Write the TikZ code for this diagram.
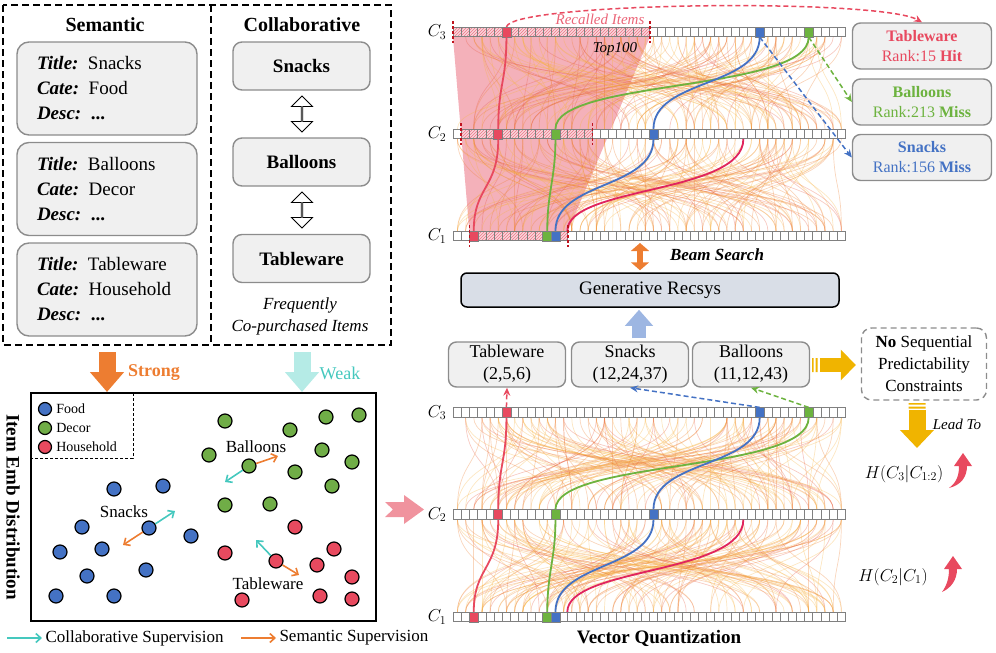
\documentclass[tikz,border=0pt]{standalone}
\usepackage{fontspec}
\setmainfont{Liberation Serif}
\usetikzlibrary{arrows.meta,calc,positioning,patterns,backgrounds,shapes.arrows}
\definecolor{tabred}{HTML}{E8495F}
\definecolor{balgreen}{HTML}{6DB33F}
\definecolor{snackblue}{HTML}{4472C4}
\definecolor{semorange}{HTML}{ED7D31}
\definecolor{colcyan}{HTML}{45C8BE}
\definecolor{weakcyan}{HTML}{B5EBE6}
\definecolor{boxgray}{HTML}{F0F0F0}
\definecolor{edgegray}{HTML}{8C8C8C}
\definecolor{recsysfill}{HTML}{D9DEE7}
\definecolor{upblue}{HTML}{9DB6E2}
\definecolor{leadyellow}{HTML}{F0B400}
\definecolor{pinkarrow}{HTML}{F0939E}
\definecolor{shadepink}{HTML}{F2A3AE}
\definecolor{flowa}{HTML}{F7B446}
\definecolor{flowb}{HTML}{EE8236}
\definecolor{flowc}{HTML}{E8604A}
\definecolor{crimson}{HTML}{E0245E}
\definecolor{markred}{HTML}{C0141E}
\definecolor{dotred}{HTML}{E84A5F}
\definecolor{dotgreen}{HTML}{70AD47}

\begin{document}
\begin{tikzpicture}[
  x=1pt, y=-1pt,
  font=\fontsize{18}{22}\selectfont,
  outerdash/.style={draw=black, line width=1.5pt, dash pattern=on 7pt off 4pt},
  head/.style={font=\fontsize{20}{24}\selectfont\bfseries},
  sembox/.style={draw=edgegray, fill=boxgray, line width=1.4pt, rounded corners=12pt, minimum width=180pt, minimum height=93pt, text width=140pt, align=left, inner sep=0pt, font=\fontsize{19}{25}\selectfont},
  colbox/.style={draw=edgegray, fill=boxgray, line width=1.4pt, rounded corners=9pt, minimum width=137pt, minimum height=48pt, font=\fontsize{19}{23}\selectfont\bfseries},
  dbl/.style={double arrow, draw=black, fill=white, line width=0.9pt, rotate=90, minimum height=36pt, minimum width=21pt, double arrow head extend=5.5pt, inner sep=0pt},
  bigarrow/.style={line width=17pt, -{Triangle[length=20pt,width=33pt]}},
  dotb/.style={circle, draw=black, line width=1.2pt, fill=snackblue, minimum size=14pt, inner sep=0pt},
  dotg/.style={dotb, fill=dotgreen},
  dotr/.style={dotb, fill=dotred},
  legtext/.style={font=\fontsize{14}{16}\selectfont, inner sep=1pt},
  itemlabel/.style={font=\fontsize{17}{20}\selectfont},
  colarr/.style={-{Straight Barb[length=5pt,width=9pt]}, draw=colcyan, line width=1.6pt},
  semarr/.style={-{Straight Barb[length=5pt,width=9pt]}, draw=semorange, line width=1.6pt},
  cell/.style={draw=gray, fill=white, line width=0.7pt, minimum width=8.17pt, minimum height=9.5pt, inner sep=0pt},
  hcell/.style={cell, preaction={fill=shadepink!45}, pattern=north east lines, pattern color=tabred!75},
  flow/.style={line width=0.7pt, opacity=0.33},
  marker/.style={draw=markred, line width=1.5pt, dash pattern=on 3pt off 2pt},
  pathred/.style={draw=tabred, line width=1.8pt},
  pathgreen/.style={draw=balgreen, line width=1.8pt},
  pathblue/.style={draw=snackblue, line width=1.8pt},
  pathcrim/.style={draw=crimson, line width=1.8pt},
  clab/.style={font=\fontsize{18}{20}\selectfont},
  rankbox/.style={draw=edgegray, fill=boxgray, line width=1.4pt, rounded corners=8pt, minimum width=139pt, minimum height=46pt, align=center, font=\fontsize{16}{20}\selectfont},
  codebox/.style={draw=edgegray, fill=boxgray, line width=1.4pt, rounded corners=8pt, minimum width=117pt, minimum height=45pt, align=center, font=\fontsize{18}{22}\selectfont},
  rdash/.style={->, >={Stealth[length=8pt,width=7pt]}, draw=tabred, line width=1.5pt, dash pattern=on 5pt off 3pt},
  gdash/.style={rdash, draw=balgreen},
  bdash/.style={rdash, draw=snackblue},
  recsys/.style={draw=black, fill=recsysfill, line width=1.5pt, rounded corners=6pt, minimum width=378pt, minimum height=34pt, font=\fontsize{19}{22}\selectfont},
  nobox/.style={draw=edgegray, line width=1.4pt, dash pattern=on 6pt off 4pt, rounded corners=10pt, minimum width=125pt, minimum height=72pt, align=center, font=\fontsize{17}{22}\selectfont},
  hlab/.style={font=\fontsize{18}{20}\selectfont}
]
\useasboundingbox (0,0) rectangle (996,653);

% item features
\draw[outerdash] (3,5) rectangle (391,345);
\draw[outerdash] (211,5) -- (211,345);
\node[head] (semhead) at (105,25) {Semantic};
\node[head] (colhead) at (302,25) {Collaborative};
\node[sembox] (sem1) at (107,88.5) {\textbf{\textit{Title:}} Snacks\\\textbf{\textit{Cate:}} Food\\\textbf{\textit{Desc:} ...}};
\node[sembox] (sem2) at (107,189) {\textbf{\textit{Title:}} Balloons\\\textbf{\textit{Cate:}} Decor\\\textbf{\textit{Desc:} ...}};
\node[sembox] (sem3) at (107,289.5) {\textbf{\textit{Title:}} Tableware\\\textbf{\textit{Cate:}} Household\\\textbf{\textit{Desc:} ...}};
\node[colbox] (col1) at (301.5,66) {Snacks};
\node[colbox] (col2) at (301.5,162) {Balloons};
\node[colbox] (col3) at (301.5,258.5) {Tableware};
\node[dbl] (co12) at (302,114) {};
\node[dbl] (co23) at (302,210) {};
\node[font=\fontsize{17}{22}\selectfont\itshape, align=center] (copur) at (300,316) {Frequently\\Co-purchased Items};

% supervision strength
\coordinate (strongtop) at (107,352);
\coordinate (weaktop) at (302,352);
\node[draw=black, line width=2pt, minimum width=345pt, minimum height=228pt, inner sep=0pt] (emb) at (203.5,507) {};
\draw[bigarrow, draw=semorange] (strongtop) -- (strongtop |- emb.north);
\draw[bigarrow, draw=weakcyan] (weaktop) -- (weaktop |- emb.north);
\node[font=\fontsize{18}{22}\selectfont\bfseries, text=semorange] (strong) at (154,373) {Strong};
\node[font=\fontsize{18}{22}\selectfont, text=colcyan] (weak) at (340,373) {Weak};
\node[font=\fontsize{19}{22}\selectfont\bfseries, rotate=-90] (embtitle) at (13,507) {Item Emb Distribution};

% legend
\draw[black, line width=0.9pt, dash pattern=on 3pt off 2pt] (133,393) -- (133,458) -- (31,458);
\node[dotb, minimum size=13pt] (lgfood) at (45,409) {};
\node[dotg, minimum size=13pt] (lgdecor) at (45,428) {};
\node[dotr, minimum size=13pt] (lghouse) at (45,447) {};
\node[legtext, right=3pt of lgfood] (lgfoodt) {Food};
\node[legtext, right=3pt of lgdecor] (lgdecort) {Decor};
\node[legtext, right=3pt of lghouse] (lghouset) {Household};

% embeddings
\foreach \x/\y [count=\n] in {114/489, 163/486, 82/527, 191/536, 60/552, 102/549, 146/570, 87/576, 56/596, 114/596}
  \node[dotb] (fb\n) at (\x,\y) {};
\foreach \x/\y [count=\n] in {225/421, 290/430, 326/417, 359/415, 209/455, 322/450, 352/462, 295/472, 332/486, 225/505, 270/504}
  \node[dotg] (fg\n) at (\x,\y) {};
\foreach \x/\y [count=\n] in {295/527, 225/553, 334/549, 317/565, 352/577, 242/600, 320/596, 352/599}
  \node[dotr] (fr\n) at (\x,\y) {};
\node[dotb] (snackdot) at (149,528) {};
\node[dotg] (balldot) at (249,466) {};
\node[dotr] (tabdot) at (276,561) {};
\node[itemlabel] (snacklab) at (124,512) {Snacks};
\node[itemlabel] (balllab) at (256,447) {Balloons};
\node[itemlabel] (tablab) at (268,584) {Tableware};
\coordinate (snc) at (175,511);
\coordinate (sns) at (123,545);
\coordinate (bac) at (225,482);
\coordinate (bas) at (278,456);
\coordinate (twc) at (256,540);
\coordinate (tws) at (299,575);
\draw[colarr] (snackdot) -- (snc);
\draw[semarr] (snackdot) -- (sns);
\draw[colarr] (balldot) -- (bac);
\draw[semarr] (balldot) -- (bas);
\draw[colarr] (tabdot) -- (twc);
\draw[semarr] (tabdot) -- (tws);

\node[anchor=west, font=\fontsize{17}{20}\selectfont] (lgcol) at (42,638) {Collaborative Supervision};
\node[anchor=west, font=\fontsize{17}{20}\selectfont] (lgsem) at (276,638) {Semantic Supervision};
\draw[colarr] ($(lgcol.west)+(-35,0)$) -- (lgcol.west);
\draw[semarr] ($(lgsem.west)+(-35,0)$) -- (lgsem.west);

% pink arrow to quantizer
\fill[pinkarrow] (385,502) -- (404,502) -- (404,495) -- (424,509.5) -- (404,524) -- (404,517) -- (385,517) -- (393,509.5) -- cycle;

% codebooks
\foreach \r/\y/\hs/\he in {a3/32/0/23, a2/134/1/16, a1/236/2/13, b3/412.5/99/0, b2/514.5/99/0, b1/617/99/0}{
  \foreach \i in {0,...,47}{
    \ifnum\i<\hs\relax \def\cst{cell}\else\ifnum\i>\he\relax \def\cst{cell}\else\def\cst{hcell}\fi\fi
    \node[\cst] (\r-\i) at ({457.4+8.17*\i},\y) {};
  }
}
\foreach \r/\y/\t in {a3/32/3, a2/134/2, a1/236/1, b3/412.5/3, b2/514.5/2, b1/617/1}
  \node[clab] (lab\r) at (437,\y) {$C_{\t}$};

\begin{scope}[on background layer]
\fill[shadepink, opacity=0.85] (a3-0.south west) -- (a3-23.south east) -- (a1-13.north east) -- (a1-2.north west) -- cycle;
\pgfmathsetseed{17}
\foreach \u/\l in {a3/a2, a2/a1, b3/b2, b2/b1}{
  \foreach \k in {1,...,165}{
    \pgfmathrandominteger{\p}{0}{47}
    \pgfmathrandominteger{\q}{0}{47}
    \pgfmathrandominteger{\m}{0}{5}
    \ifcase\m\relax \def\fc{flowa}\or\def\fc{flowa}\or\def\fc{flowa}\or\def\fc{flowb}\or\def\fc{flowb}\else\def\fc{flowc}\fi
    \draw[flow, draw=\fc] (\u-\p.south) .. controls +(0,50) and +(0,-50) .. (\l-\q.north);
  }
}
\end{scope}

\foreach \r/\k/\c in {a3/6/tabred, a2/5/tabred, a1/2/tabred, a3/43/balgreen, a2/12/balgreen, a1/11/balgreen, a3/37/snackblue, a2/24/snackblue, a1/12/snackblue, b3/6/tabred, b2/5/tabred, b1/2/tabred, b3/43/balgreen, b2/12/balgreen, b1/11/balgreen, b3/37/snackblue, b2/24/snackblue, b1/12/snackblue}
  \filldraw[fill=\c, draw=gray, line width=0.7pt] (\r-\k.north west) rectangle (\r-\k.south east);

\foreach \s in {a,b}{
  \draw[pathred] (\s3-6.south) .. controls +(0,45) and +(0,-45) .. (\s2-5.north);
  \draw[pathred] (\s2-5.south) .. controls +(0,50) and +(0,-45) .. (\s1-2.north);
  \draw[pathgreen] (\s3-43.south) .. controls +(0,55) and +(0,-50) .. (\s2-12.north);
  \draw[pathgreen] (\s2-12.south) .. controls +(0,40) and +(0,-40) .. (\s1-11.north);
  \draw[pathblue] (\s3-37.south) .. controls +(0,50) and +(0,-50) .. (\s2-24.north);
  \draw[pathblue] (\s2-24.south) .. controls +(0,50) and +(0,-50) .. (\s1-12.north);
  \draw[pathcrim] (\s2-35.south) .. controls +(0,55) and +(0,-45) .. (\s1-14.north west);
}

\foreach \r/\k/\side in {a3/0/west, a3/23/east, a2/1/west, a2/16/east, a1/2/west, a1/13/east}
  \draw[marker] (\r-\k.\side) ++(0,-11) -- ++(0,22);
\node[font=\fontsize{15}{18}\selectfont\itshape] (top100) at (615,49) {Top100};

% recall results
\node[rankbox, text=tabred] (tabbox) at (922,46) {\textbf{Tableware}\\Rank:15 \textbf{Hit}};
\node[rankbox, text=balgreen] (balbox) at (922,102) {\textbf{Balloons}\\Rank:213 \textbf{Miss}};
\node[rankbox, text=snackblue] (snbox) at (922,157.5) {\textbf{Snacks}\\Rank:156 \textbf{Miss}};
\draw[rdash] (a3-6.north) .. controls (512,2) and (880,-2) .. (tabbox.north);
\node[font=\fontsize{15}{18}\selectfont\itshape, text=tabred!85] (recalled) at (600,19) {Recalled Items};
\draw[gdash] (a3-43.south) -- (balbox.west);
\draw[bdash] (a3-37.south) -- (snbox.west);

% generative model
\node[recsys] (recsys) at (650,290) {Generative Recsys};
\coordinate (beamtop) at (640,243);
\draw[line width=6pt, draw=semorange, {Triangle[length=8pt,width=18pt]}-{Triangle[length=8pt,width=18pt]}, shorten >=2pt] (beamtop) -- (beamtop |- recsys.north);
\node[font=\fontsize{17}{20}\selectfont\bfseries\itshape] (beam) at (717,255) {Beam Search};

\node[codebox] (tw2) at (507,364.5) {Tableware\\(2,5,6)};
\node[codebox] (sn2) at (630,364.5) {Snacks\\(12,24,37)};
\node[codebox] (ba2) at (751,364.5) {Balloons\\(11,12,43)};
\draw[line width=14pt, draw=upblue, -{Triangle[length=16pt,width=27pt]}, shorten <=3pt, shorten >=2pt] ([xshift=9pt]sn2.north) -- ([xshift=9pt]sn2.north |- recsys.south);
\draw[rdash] (b3-6.north) -- (tw2.south);
\draw[bdash] (b3-37.north) -- (sn2.south);
\draw[gdash] (b3-43.north) -- (ba2.south);

% entropy side
\node[nobox] (nosp) at (924,364) {\textbf{No} Sequential\\Predictability\\Constraints};
\coordinate (yelltail) at (819.5,365);
\fill[leadyellow] (812,358) rectangle (813.5,372) (815.5,358) rectangle (817.5,372);
\draw[line width=14pt, draw=leadyellow, -{Triangle[length=15pt,width=30pt]}, shorten >=5pt] (yelltail) -- (nosp.west |- yelltail);
\coordinate (leadtop) at (917,410);
\coordinate (leadtip) at (917,448);
\fill[leadyellow] (908.5,403) rectangle (925.5,404.5) (908.5,406.5) rectangle (925.5,408.5);
\draw[line width=17pt, draw=leadyellow, -{Triangle[length=18pt,width=33pt]}] (leadtop) -- (leadtip);
\node[font=\fontsize{15}{18}\selectfont\itshape] (leadto) at (957,424) {Lead To};
\node[hlab] (h3) at (904,474) {$H(C_3|C_{1:2})$};
\node[hlab] (h2) at (893,577) {$H(C_2|C_1)$};
\fill[tabred, shift={(963,453)}] (-9,13) -- (0,0) -- (9,13) -- (4,13) .. controls (4,24) and (-2,32) .. (-14,35) .. controls (-6,29) and (-4,22) .. (-4,13) -- cycle;
\fill[tabred, shift={(953,556)}] (-9,13) -- (0,0) -- (9,13) -- (4,13) .. controls (4,24) and (-2,32) .. (-11,36) .. controls (-6,29) and (-4,22) .. (-4,13) -- cycle;

\node[font=\fontsize{19}{22}\selectfont\bfseries] (vq) at (659,638) {Vector Quantization};
\end{tikzpicture}
\end{document}
